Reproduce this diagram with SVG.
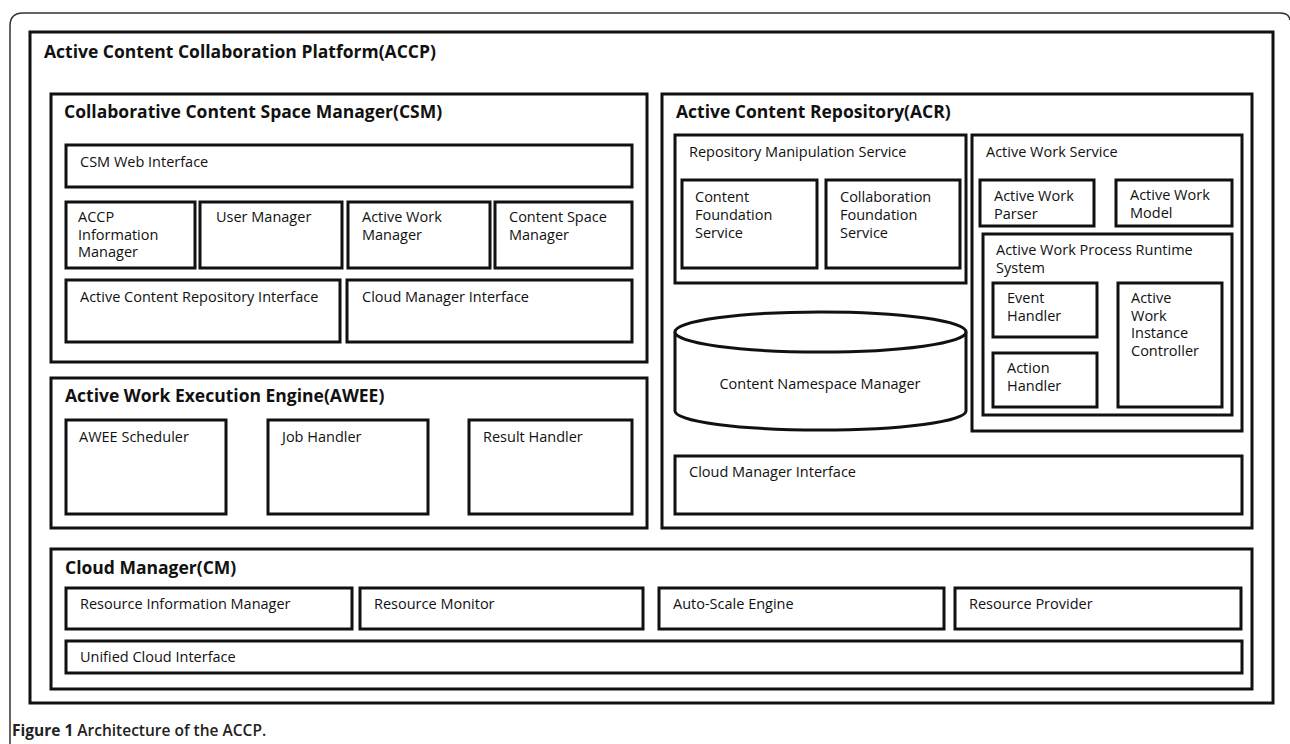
<svg xmlns="http://www.w3.org/2000/svg" width="1290" height="744" viewBox="0 0 1290 744">
  <style>
    .box { fill: #fff; stroke: #111; stroke-width: 3; }
    .frame { fill: none; stroke: #333; stroke-width: 1.5; }
    .t { font-family: "Open Sans", "Noto Sans", sans-serif; font-size: 14.5px; fill: #111; }
    .h { font-family: "Open Sans", "Noto Sans", sans-serif; font-size: 17.5px; font-weight: bold; fill: #111; }
    .cap { font-family: "Open Sans", "Noto Sans", sans-serif; font-size: 15.5px; font-weight: bold; fill: #222; }
  </style>
  <rect width="1290" height="744" fill="#fff"/>

  <!-- page frame -->
  <path class="frame" d="M10,744 V26 Q10,13 23,13 H1280 Q1289,13 1290,20"/>

  <!-- platform -->
  <g id="accp">
    <rect class="box" x="30" y="32" width="1243" height="671"/>
    <text class="h" x="44" y="58">Active Content Collaboration Platform(ACCP)</text>
  </g>

  <!-- Collaborative Content Space Manager -->
  <g id="csm">
    <rect class="box" x="51" y="94" width="596" height="268"/>
    <text class="h" x="64" y="118">Collaborative Content Space Manager(CSM)</text>
  </g>
  <g id="csm-web">
    <rect class="box" x="66" y="145" width="566" height="42"/>
    <text class="t" x="80" y="167">CSM Web Interface</text>
  </g>
  <g id="accp-info">
    <rect class="box" x="66" y="202" width="129" height="66"/>
    <text class="t" x="78" y="222">ACCP<tspan x="78" dy="17.5">Information</tspan><tspan x="78" dy="17.5">Manager</tspan></text>
  </g>
  <g id="user-mgr">
    <rect class="box" x="200" y="202" width="142" height="66"/>
    <text class="t" x="216" y="222">User Manager</text>
  </g>
  <g id="aw-mgr">
    <rect class="box" x="348" y="202" width="142" height="66"/>
    <text class="t" x="362" y="222">Active Work<tspan x="362" dy="17.5">Manager</tspan></text>
  </g>
  <g id="cs-mgr">
    <rect class="box" x="495" y="202" width="137" height="66"/>
    <text class="t" x="509" y="222">Content Space<tspan x="509" dy="17.5">Manager</tspan></text>
  </g>
  <g id="acr-if">
    <rect class="box" x="66" y="280" width="274" height="62"/>
    <text class="t" x="80" y="302">Active Content Repository Interface</text>
  </g>
  <g id="csm-cm-if">
    <rect class="box" x="347" y="280" width="285" height="62"/>
    <text class="t" x="362" y="302">Cloud Manager Interface</text>
  </g>

  <!-- Active Work Execution Engine -->
  <g id="awee">
    <rect class="box" x="51" y="378" width="596" height="150"/>
    <text class="h" x="65" y="402">Active Work Execution Engine(AWEE)</text>
  </g>
  <g id="awee-sched">
    <rect class="box" x="66" y="420" width="160" height="94"/>
    <text class="t" x="79" y="442">AWEE Scheduler</text>
  </g>
  <g id="job-handler">
    <rect class="box" x="268" y="420" width="160" height="94"/>
    <text class="t" x="282" y="442">Job Handler</text>
  </g>
  <g id="result-handler">
    <rect class="box" x="469" y="420" width="163" height="94"/>
    <text class="t" x="483" y="442">Result Handler</text>
  </g>

  <!-- Active Content Repository -->
  <g id="acr">
    <rect class="box" x="662" y="94" width="590" height="434"/>
    <text class="h" x="676" y="118">Active Content Repository(ACR)</text>
  </g>
  <g id="repo-manip">
    <rect class="box" x="675" y="135" width="291" height="148"/>
    <text class="t" x="689" y="157">Repository Manipulation Service</text>
  </g>
  <g id="content-foundation">
    <rect class="box" x="682" y="180" width="135" height="88"/>
    <text class="t" x="695" y="202">Content<tspan x="695" dy="18">Foundation</tspan><tspan x="695" dy="18">Service</tspan></text>
  </g>
  <g id="collab-foundation">
    <rect class="box" x="826" y="180" width="134" height="88"/>
    <text class="t" x="840" y="202">Collaboration<tspan x="840" dy="18">Foundation</tspan><tspan x="840" dy="18">Service</tspan></text>
  </g>
  <g id="aw-service">
    <rect class="box" x="972" y="135" width="270" height="296"/>
    <text class="t" x="986" y="157">Active Work Service</text>
  </g>
  <g id="aw-parser">
    <rect class="box" x="980" y="180" width="114" height="46"/>
    <text class="t" x="994" y="201">Active Work<tspan x="994" dy="18">Parser</tspan></text>
  </g>
  <g id="aw-model">
    <rect class="box" x="1116" y="180" width="116" height="46"/>
    <text class="t" x="1130" y="200">Active Work<tspan x="1130" dy="18">Model</tspan></text>
  </g>
  <g id="aw-runtime">
    <rect class="box" x="983" y="234" width="249" height="181"/>
    <text class="t" x="996" y="255">Active Work Process Runtime<tspan x="996" dy="17.5">System</tspan></text>
  </g>
  <g id="event-handler">
    <rect class="box" x="993" y="283" width="104" height="54"/>
    <text class="t" x="1007" y="303">Event<tspan x="1007" dy="17.5">Handler</tspan></text>
  </g>
  <g id="action-handler">
    <rect class="box" x="993" y="353" width="104" height="54"/>
    <text class="t" x="1007" y="373">Action<tspan x="1007" dy="17.5">Handler</tspan></text>
  </g>
  <g id="instance-controller">
    <rect class="box" x="1118" y="283" width="104" height="124"/>
    <text class="t" x="1131" y="303">Active<tspan x="1131" dy="17.5">Work</tspan><tspan x="1131" dy="17.5">Instance</tspan><tspan x="1131" dy="17.5">Controller</tspan></text>
  </g>
  <g id="namespace-mgr">
    <path class="box" d="M675,332 V411 A145.5,19 0 0 0 966,411 V332"/>
    <ellipse class="box" cx="820.5" cy="332" rx="145.5" ry="20"/>
    <text class="t" x="820" y="389" text-anchor="middle">Content Namespace Manager</text>
  </g>
  <g id="acr-cm-if">
    <rect class="box" x="675" y="456" width="567" height="58"/>
    <text class="t" x="689" y="477">Cloud Manager Interface</text>
  </g>

  <!-- Cloud Manager -->
  <g id="cm">
    <rect class="box" x="51" y="549" width="1201" height="140"/>
    <text class="h" x="65" y="574">Cloud Manager(CM)</text>
  </g>
  <g id="res-info">
    <rect class="box" x="66" y="588" width="286" height="41"/>
    <text class="t" x="80" y="609">Resource Information Manager</text>
  </g>
  <g id="res-monitor">
    <rect class="box" x="360" y="588" width="283" height="41"/>
    <text class="t" x="374" y="609">Resource Monitor</text>
  </g>
  <g id="auto-scale">
    <rect class="box" x="659" y="588" width="285" height="41"/>
    <text class="t" x="673" y="609">Auto-Scale Engine</text>
  </g>
  <g id="res-provider">
    <rect class="box" x="955" y="588" width="286" height="41"/>
    <text class="t" x="969" y="609">Resource Provider</text>
  </g>
  <g id="unified-cloud">
    <rect class="box" x="66" y="641" width="1176" height="32"/>
    <text class="t" x="80" y="662">Unified Cloud Interface</text>
  </g>

  <g id="connectors"/>

  <text class="cap" x="12" y="736">Figure 1 <tspan font-weight="600">Architecture of the ACCP.</tspan></text>
</svg>
